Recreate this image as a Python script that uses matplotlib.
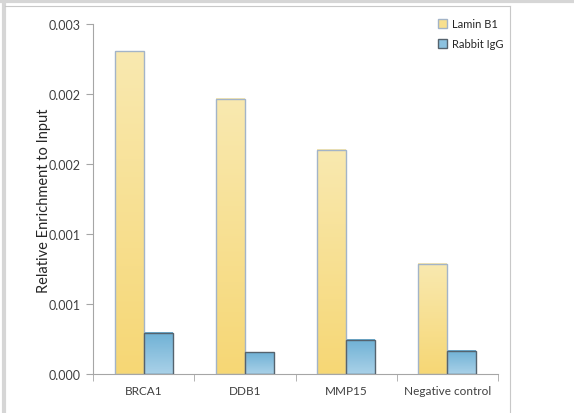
import numpy as np
import matplotlib.pyplot as plt
from matplotlib.lines import Line2D
from matplotlib.patches import Patch

plt.rcParams['font.family'] = ['Lato', 'DejaVu Sans']

# data
categories = ['BRCA1', 'DDB1', 'MMP15', 'Negative control']
lamin_b1 = [0.002307, 0.001966, 0.001602, 0.000786]
rabbit_igg = [0.000295, 0.000157, 0.000245, 0.000169]
y_ticks = [0, 0.0005, 0.001, 0.0015, 0.002, 0.0025]
y_tick_labels = ['0.000', '0.001', '0.001', '0.002', '0.002', '0.003']

fig = plt.figure(figsize=(5.74, 4.14), dpi=100)
ax = fig.add_axes([93 / 574, 1 - 375.3 / 414, 405 / 574, 350 / 414])

x = np.arange(len(categories))
w = 0.286


def grad_bars(xpos, heights, top_col, bot_col, edge):
    bars = ax.bar(xpos, heights, w, facecolor='none', edgecolor=edge, linewidth=1.0, zorder=3)
    c1 = np.array(plt.matplotlib.colors.to_rgb(top_col))
    c2 = np.array(plt.matplotlib.colors.to_rgb(bot_col))
    t = np.linspace(0, 1, 100)[:, None]
    img = (c1 * (1 - t) + c2 * t)[:, None, :]
    for b in bars:
        x0, y0 = b.get_x(), b.get_y()
        ax.imshow(img, extent=[x0, x0 + b.get_width(), y0, y0 + b.get_height()],
                  aspect='auto', origin='upper', zorder=2, interpolation='bilinear')
    return bars


grad_bars(x - w / 2, lamin_b1, '#f9e9b0', '#f6d775', '#a3b4c8')
grad_bars(x + w / 2, rabbit_igg, '#6fb1d5', '#a9d1e8', '#55636e')

ax.set_xlim(-0.5, len(categories) - 0.5)
ax.set_ylim(0, 0.0025)
ax.set_yticks(y_ticks)
ax.set_yticklabels(y_tick_labels, fontsize=9, color='#404040')
ax.set_xticks(x)
ax.set_xticklabels(categories, fontsize=8.5, color='#404040')
ax.set_xticks(np.arange(-0.5, len(categories)), minor=True)
ax.tick_params(axis='x', which='major', length=0, pad=8)
ax.tick_params(axis='x', which='minor', length=5, color='#a6a6a6', direction='out')
ax.tick_params(axis='y', length=5, color='#a6a6a6', direction='out', pad=4)
for s in ['top', 'right']:
    ax.spines[s].set_visible(False)
for s in ['left', 'bottom']:
    ax.spines[s].set_color('#a6a6a6')
ax.set_ylabel('Relative Enrichment to Input', fontsize=10.5, color='#262626', labelpad=-2)

handles = [Patch(facecolor='#f8e08f', edgecolor='#a3b4c8', label='Lamin B1'),
           Patch(facecolor='#8cc2e0', edgecolor='#55636e', label='Rabbit IgG')]
fig.legend(handles=handles, loc='upper left', bbox_to_anchor=(428 / 574, 1 - 9 / 414),
           frameon=False, fontsize=8, handlelength=0.85, handleheight=0.85,
           handletextpad=0.45, labelspacing=0.85, labelcolor='#262626')

# outer frame lines like the source screenshot
fig.add_artist(Line2D([0, 1], [1 - 2 / 414, 1 - 2 / 414], color='#d6d6d6', lw=3, transform=fig.transFigure))
fig.add_artist(Line2D([4 / 574, 4 / 574], [0, 1], color='#d6d6d6', lw=3, transform=fig.transFigure))
fig.add_artist(Line2D([5 / 574, 510 / 574], [1 - 7 / 414, 1 - 7 / 414], color='#c8c8c8', lw=0.8, transform=fig.transFigure))
fig.add_artist(Line2D([510 / 574, 510 / 574], [0, 1 - 7 / 414], color='#c8c8c8', lw=0.8, transform=fig.transFigure))

fig.savefig('out.png', dpi=100)
